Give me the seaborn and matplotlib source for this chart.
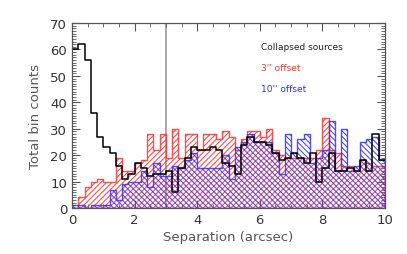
import numpy as np
import pandas as pd
import matplotlib
matplotlib.use("Agg")
import matplotlib.pyplot as plt
import seaborn as sns
from matplotlib.ticker import MultipleLocator

# bin edges in arcsec (0.2 arcsec bins)
bin_edges = [round(0.2 * i, 2) for i in range(51)]
bin_centers = [round(0.2 * i + 0.1, 2) for i in range(50)]

collapsed_counts = [60, 62, 56, 36, 27, 23, 21, 16, 11, 13,
                    17, 15, 12, 13, 13, 14, 6, 15, 19, 23,
                    22, 22, 23, 22, 17, 16, 13, 24, 27, 25,
                    25, 24, 21, 18, 19, 21, 19, 17, 21, 10,
                    15, 21, 14, 14, 15, 14, 18, 14, 28, 18]

offset3_counts = [0, 4, 8, 10, 11, 10, 10, 19, 14, 14,
                  17, 18, 28, 22, 28, 19, 30, 19, 28, 28,
                  22, 28, 28, 26, 29, 27, 22, 26, 29, 29,
                  27, 30, 22, 20, 19, 19, 19, 19, 19, 22,
                  34, 22, 21, 16, 16, 14, 18, 17, 16, 16]

offset10_counts = [1, 1, 0, 1, 1, 1, 7, 3, 9, 10,
                   10, 14, 8, 17, 12, 12, 16, 15, 18, 21,
                   15, 15, 15, 15, 20, 11, 23, 25, 28, 25,
                   25, 25, 21, 13, 28, 21, 26, 28, 17, 19,
                   22, 33, 14, 30, 14, 16, 25, 26, 27, 18]

legend_labels = ["Collapsed sources", "3'' offset", "10'' offset"]
red = "#ff3030"
blue = "#3030ff"
grey_text = "#333333"

sns.set_theme(style="ticks")
plt.rcParams["font.family"] = ["DejaVu Sans"]
plt.rcParams["hatch.linewidth"] = 0.8

fig, ax = plt.subplots(figsize=(4.07, 2.55), dpi=100)
fig.subplots_adjust(left=72 / 407, right=385 / 407, top=1 - 24 / 255, bottom=1 - 209 / 255)


def hist_frame(counts):
    return pd.DataFrame({"sep": bin_centers, "count": counts})


def hatched_hist(counts, color, hatch):
    n_before = len(ax.collections)
    sns.histplot(data=hist_frame(counts), x="sep", weights="count", bins=bin_edges,
                 element="step", fill=True, color=color, ax=ax, linewidth=1.0)
    for coll in ax.collections[n_before:]:
        coll.set_facecolor("none")
        coll.set_edgecolor(color)
        coll.set_hatch(hatch)
        coll.set_alpha(0.85)


hatched_hist(offset3_counts, red, "//////")
hatched_hist(offset10_counts, blue, "\\\\\\\\\\\\")
sns.histplot(data=hist_frame(collapsed_counts), x="sep", weights="count", bins=bin_edges,
             element="step", fill=False, color="black", ax=ax, linewidth=1.1)

ax.axvline(3, color="#999999", linewidth=1.2, zorder=0)

ax.set_xlim(0, 10)
ax.set_ylim(0, 70)
ax.xaxis.set_major_locator(MultipleLocator(2))
ax.xaxis.set_minor_locator(MultipleLocator(0.5))
ax.yaxis.set_major_locator(MultipleLocator(10))
ax.yaxis.set_minor_locator(MultipleLocator(1))
ax.tick_params(which="both", direction="in", top=True, right=True,
               colors="#555555", labelcolor=grey_text, labelsize=9.5)
ax.tick_params(which="major", length=6, width=0.8)
ax.tick_params(which="minor", length=3, width=0.6)
for sp in ax.spines.values():
    sp.set_color("#555555")
    sp.set_linewidth(0.9)

ax.set_xlabel("Separation (arcsec)", fontsize=9.5, color="#555555", labelpad=3)
ax.set_ylabel("Total bin counts", fontsize=9.5, color="#555555", labelpad=6)

for i, (lab, col) in enumerate(zip(legend_labels, ["#222222", red, blue])):
    ax.text(0.603, 0.875 - i * 0.115, lab, transform=ax.transAxes,
            fontsize=6.5, color=col, va="center", ha="left")

fig.savefig("out.png", dpi=100)
